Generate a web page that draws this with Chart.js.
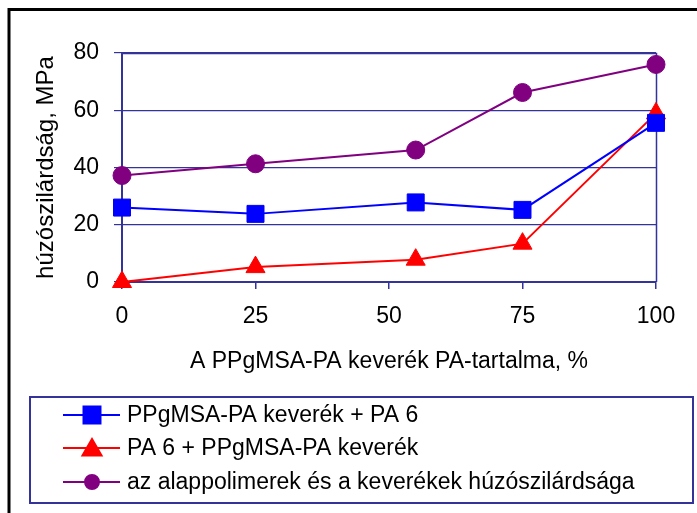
<!DOCTYPE html>
<html>
<head>
<meta charset="utf-8">
<script src="https://cdn.jsdelivr.net/npm/chart.js@4/dist/chart.umd.min.js"></script>
<style>
  html, body { margin: 0; padding: 0; background: #fff; }
  canvas { display: block; }
</style>
</head>
<body>
<canvas id="chart" width="697" height="513"></canvas>
<script>
// data
const paContent = [0, 25, 55, 75, 100];
const blendPlusPA6 = [26.0, 23.8, 27.8, 25.2, 55.6];
const pa6PlusBlend = [0, 5.2, 7.8, 13.4, 58.9];
const baseStrength = [37.2, 41.3, 46.1, 66.2, 76.0];
const seriesNames = [
  'PPgMSA-PA keverék + PA 6',
  'PA 6 + PPgMSA-PA keverék',
  'az alappolimerek és a keverékek húzószilárdsága'
];
const xTitle = 'A PPgMSA-PA keverék PA-tartalma, %';
const yTitle = 'húzószilárdság, MPa';

const NAVY = '#333399';
const FONT = '"Liberation Sans", Arial, sans-serif';

Chart.defaults.font.family = FONT;
Chart.defaults.color = '#000';

const toPoints = vals => vals.map((v, i) => ({ x: paContent[i], y: v }));

// outer black frame + plot area border
const framePlugin = {
  id: 'frame',
  beforeDraw(chart) {
    const ctx = chart.ctx;
    ctx.save();
    ctx.fillStyle = '#fff';
    ctx.fillRect(0, 0, chart.width, chart.height);
    ctx.strokeStyle = '#000';
    ctx.lineWidth = 3;
    ctx.strokeRect(9, 9.5, 700, 520);
    ctx.restore();
  },
  beforeDatasetsDraw(chart) {
    const { ctx, chartArea: a } = chart;
    ctx.save();
    ctx.strokeStyle = NAVY;
    ctx.lineWidth = 1.5;
    ctx.beginPath();
    ctx.moveTo(a.left, a.top + 0.5);
    ctx.lineTo(a.right + 0.5, a.top + 0.5);
    ctx.lineTo(a.right + 0.5, a.bottom);
    ctx.stroke();
    ctx.restore();
  }
};

// boxed legend with line + marker samples
const boxLegend = {
  id: 'boxLegend',
  afterDraw(chart) {
    const ctx = chart.ctx;
    ctx.save();
    ctx.strokeStyle = NAVY;
    ctx.lineWidth = 2;
    ctx.strokeRect(30, 397, 663, 106);
    const rows = [415, 448, 482];
    const legendRadius = [12, 11, 7];
    chart.data.datasets.forEach((ds, i) => {
      const y = rows[i];
      ctx.strokeStyle = ds.borderColor;
      ctx.lineWidth = 2;
      ctx.beginPath();
      ctx.moveTo(63, y);
      ctx.lineTo(120, y);
      ctx.stroke();
      ctx.fillStyle = ds.pointBackgroundColor;
      ctx.strokeStyle = ds.pointBorderColor;
      Chart.helpers.drawPoint(ctx, {
        pointStyle: ds.pointStyle,
        radius: legendRadius[i],
        borderWidth: 1,
        rotation: 0
      }, 92, y + (ds.pointStyle === 'triangle' ? 2 : 0));
      ctx.fillStyle = '#000';
      ctx.font = '23px ' + FONT;
      ctx.textBaseline = 'middle';
      ctx.textAlign = 'left';
      ctx.fillText(ds.label, 127, y + 1);
    });
    ctx.restore();
  }
};

new Chart(document.getElementById('chart'), {
  type: 'line',
  data: {
    datasets: [
      {
        label: seriesNames[0],
        data: toPoints(blendPlusPA6),
        borderColor: '#0000FF',
        borderWidth: 2,
        pointStyle: 'rect',
        pointRadius: 12,
        pointBackgroundColor: '#0000FF',
        pointBorderColor: '#0000FF',
        pointBorderWidth: 1
      },
      {
        label: seriesNames[1],
        data: toPoints(pa6PlusBlend),
        borderColor: '#FF0000',
        borderWidth: 2,
        pointStyle: 'triangle',
        pointRadius: 11,
        pointBackgroundColor: '#FF0000',
        pointBorderColor: '#FF0000',
        pointBorderWidth: 1
      },
      {
        label: seriesNames[2],
        data: toPoints(baseStrength),
        borderColor: '#800080',
        borderWidth: 2,
        pointStyle: 'circle',
        pointRadius: 9,
        pointBackgroundColor: '#800080',
        pointBorderColor: '#800080',
        pointBorderWidth: 1
      }
    ]
  },
  options: {
    responsive: false,
    animation: false,
    clip: false,
    layout: { padding: { left: 0, top: 53, right: 41, bottom: 134 } },
    plugins: {
      legend: { display: false },
      tooltip: { enabled: false }
    },
    scales: {
      x: {
        type: 'linear',
        min: 0,
        max: 100,
        afterFit(scale) { scale.height = 97; },
        ticks: {
          stepSize: 25,
          padding: 14,
          font: { size: 23 },
          color: '#000'
        },
        grid: {
          drawOnChartArea: false,
          drawTicks: true,
          tickLength: 7,
          color: NAVY,
          lineWidth: 1.5
        },
        border: { color: NAVY, width: 2 },
        title: {
          display: true,
          text: xTitle,
          font: { size: 23, lineHeight: 1.2 },
          color: '#000',
          padding: { top: 0, bottom: 4 }
        }
      },
      y: {
        min: 0,
        max: 80,
        afterFit(scale) { scale.width = 122; },
        ticks: {
          stepSize: 20,
          padding: 15,
          font: { size: 23 },
          color: '#000'
        },
        grid: {
          color: NAVY,
          lineWidth: 1.2,
          tickLength: 8
        },
        border: { color: NAVY, width: 2 },
        title: {
          display: true,
          text: yTitle,
          font: { size: 24, lineHeight: 1.2 },
          color: '#000',
          padding: { top: 32, bottom: 0 }
        }
      }
    }
  },
  plugins: [framePlugin, boxLegend]
});
</script>
</body>
</html>
